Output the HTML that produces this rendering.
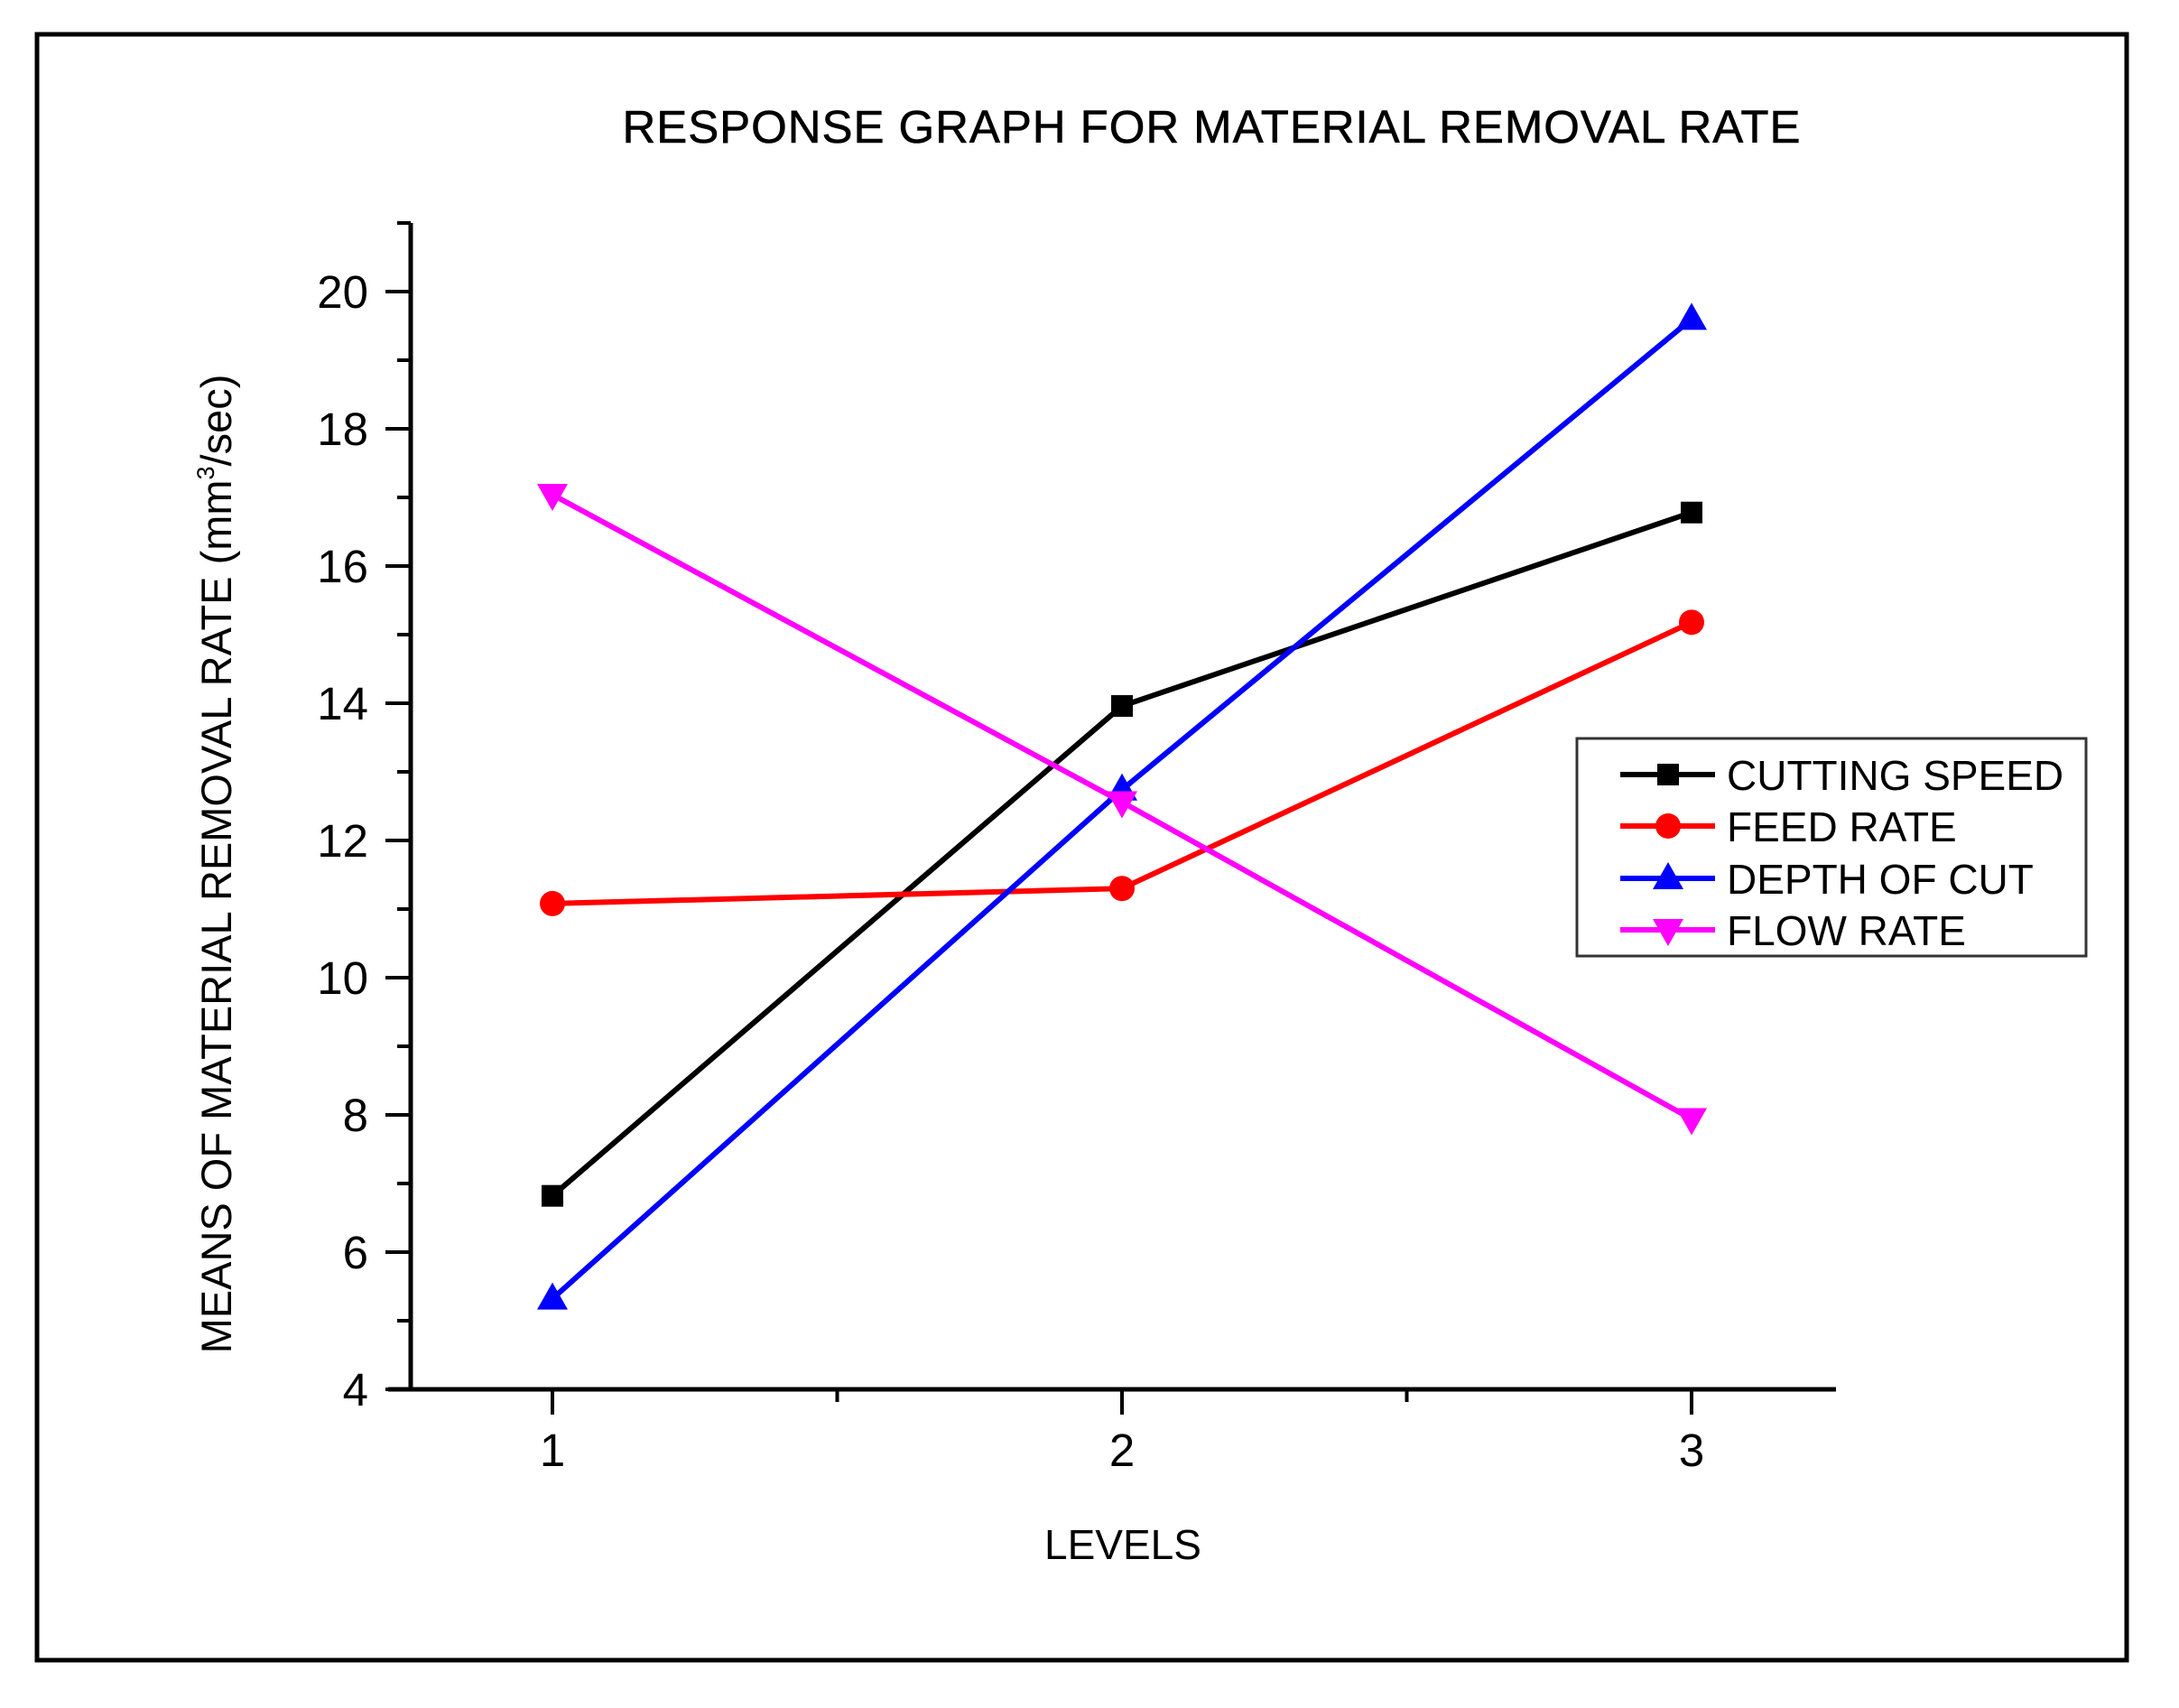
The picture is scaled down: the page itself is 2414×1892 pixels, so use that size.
<!DOCTYPE html>
<html><head><meta charset="utf-8"><style>
html,body{margin:0;padding:0;background:#fff}
svg{display:block}
text{font-family:"Liberation Sans",Arial,sans-serif;fill:#000}
</style></head><body>
<svg id="chart" width="2414" height="1892" viewBox="0 0 2414 1892">
<rect x="41" y="38" width="2315" height="1801" fill="none" stroke="#000" stroke-width="5"/>
<text x="1342" y="158" font-size="51" text-anchor="middle" textLength="1305" stroke="#000" stroke-width="0.6">RESPONSE GRAPH FOR MATERIAL REMOVAL RATE</text>
<text transform="translate(256,957) rotate(-90)" font-size="47" text-anchor="middle">MEANS OF MATERIAL REMOVAL RATE (mm<tspan font-size="27" dy="-19">3</tspan><tspan dy="19">/sec)</tspan></text>
<text x="1244" y="1727" font-size="46" text-anchor="middle">LEVELS</text>
<g id="axes"></g>
<g id="series"></g>
<g id="legend"></g>
</svg>
<script>
const levels=[1,2,3];
const cuttingSpeed=[6.82,13.96,16.78];
const feedRate=[11.08,11.30,15.18];
const depthOfCut=[5.32,12.74,19.6];
const flowRate=[17.04,12.56,7.94];
const yTicks=[4,6,8,10,12,14,16,18,20];
const xTicks=[1,2,3];
const seriesNames=["CUTTING SPEED","FEED RATE","DEPTH OF CUT","FLOW RATE"];

const NS="http://www.w3.org/2000/svg";
function X(v){return 612+(v-1)*631;}
function Y(v){return 1539-(v-4)*76;}
function mk(tag,attrs,parent){const e=document.createElementNS(NS,tag);for(const k in attrs)e.setAttribute(k,attrs[k]);parent.appendChild(e);return e;}
const axes=document.getElementById('axes');
let e;
e=mk('line',{x1:455,y1:Y(21),x2:455,y2:1541,stroke:'#000','stroke-width':5},axes);


e=mk('line',{x1:430,y1:1539,x2:2034,y2:1539,stroke:'#000','stroke-width':5},axes);


for(let v=5;v<=21;v+=2){
  e=mk('line',{x1:440,y1:Y(v),x2:455,y2:Y(v),stroke:'#000','stroke-width':4},axes);
  
  
}
yTicks.forEach(v=>{
  e=mk('line',{x1:427,y1:Y(v),x2:455,y2:Y(v),stroke:'#000','stroke-width':4},axes);
  
  
  e=mk('text',{x:408,y:Y(v)+18,'font-size':51,'text-anchor':'end'},axes);
  e.textContent=v;
  
  
});
xTicks.forEach(v=>{
  e=mk('line',{x1:X(v),y1:1539,x2:X(v),y2:1567,stroke:'#000','stroke-width':4},axes);
  
  
  e=mk('text',{x:X(v),y:1624,'font-size':51,'text-anchor':'middle'},axes);
  e.textContent=v;
  
  
});
[1.5,2.5].forEach(v=>{
  e=mk('line',{x1:X(v),y1:1539,x2:X(v),y2:1553,stroke:'#000','stroke-width':4},axes);
  
  
});

function marker(type,cx,cy,color,parent){
  let m;
  if(type==='sq') m=mk('rect',{x:cx-12,y:cy-12,width:24,height:24,fill:color},parent);
  else if(type==='ci') m=mk('circle',{cx:cx,cy:cy,r:14,fill:color},parent);
  else if(type==='up') m=mk('polygon',{points:`${cx},${cy-18} ${cx-17},${cy+12} ${cx+17},${cy+12}`,fill:color},parent);
  else m=mk('polygon',{points:`${cx},${cy+18} ${cx-17},${cy-12} ${cx+17},${cy-12}`,fill:color},parent);
  return m;
}
const series=[[cuttingSpeed,'#000','sq','cutting-speed'],[feedRate,'#ff0000','ci','feed-rate'],[depthOfCut,'#0000ff','up','depth-of-cut'],[flowRate,'#ff00ff','dn','flow-rate']];
const sg=document.getElementById('series');
series.forEach(([vals,color,type,name])=>{
  const g=mk('g',{},sg);
  
  
  const pts=vals.map((v,i)=>X(levels[i])+','+Y(v)).join(' ');
  const l=mk('polyline',{points:pts,fill:'none',stroke:color,'stroke-width':6},g);
  
  
  vals.forEach((v,i)=>{
    const m=marker(type,X(levels[i]),Y(v),color,g);
    
    
  });
});
const lg=document.getElementById('legend');


e=mk('rect',{x:1747,y:818,width:564,height:241,fill:'#fff',stroke:'#333','stroke-width':3},lg);


const rowY=[858,915,973,1030];
series.forEach(([vals,color,type,name],i)=>{
  const g=mk('g',{},lg);
  
  
  mk('line',{x1:1795,y1:rowY[i],x2:1900,y2:rowY[i],stroke:color,'stroke-width':6},g);
  marker(type,1848,rowY[i],color,g);
  const t=mk('text',{x:1913,y:rowY[i]+17,'font-size':46},g);
  t.textContent=seriesNames[i];
});
</script>
</body></html>
